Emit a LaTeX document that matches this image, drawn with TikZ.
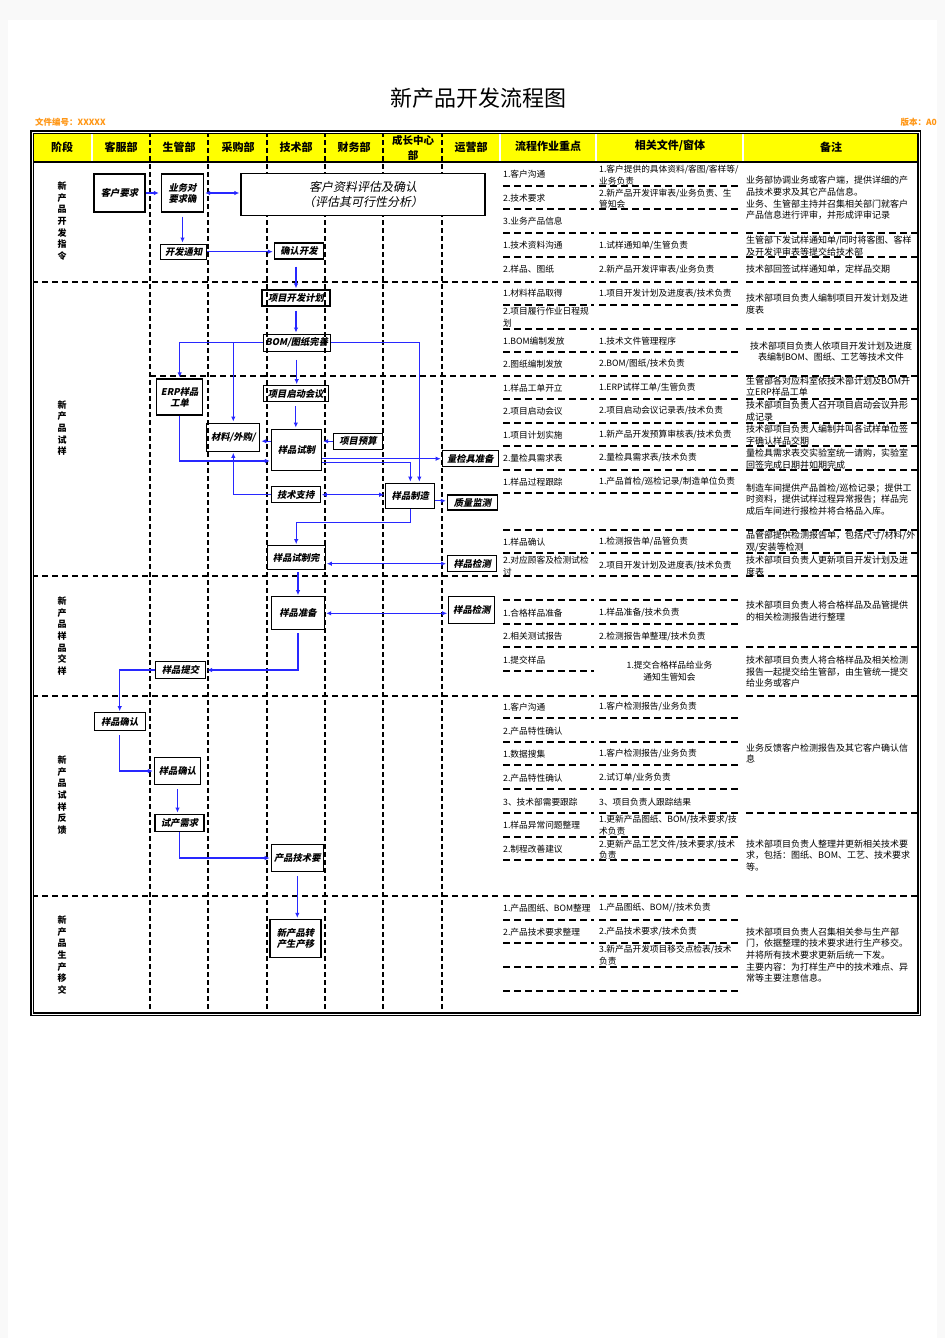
\documentclass[tikz,border=0pt]{standalone}
\usepackage{fontspec}
\setmainfont{Noto Sans CJK SC}
\newfontfamily\cjkit{Noto Sans CJK SC}[FakeSlant=0.2]
\usetikzlibrary{arrows.meta,calc}
\definecolor{hdr}{RGB}{255,255,0}
\definecolor{org}{RGB}{255,150,20}
\definecolor{arrblue}{RGB}{40,40,255}
\newcommand{\bxfont}{\cjkit\bfseries\fontsize{9.3}{11}\selectfont}
\newcommand{\bigbxfont}{\cjkit\fontsize{12}{15.5}\selectfont}
\newcommand{\cellfont}{\fontsize{8.7}{11.5}\selectfont}
\newcommand{\notefont}{\fontsize{9}{11.6}\selectfont}
\tikzset{
  box/.style={draw=black, line width=1.3pt, inner sep=1pt, font=\bxfont, align=center},
  arr/.style={draw=arrblue, line width=1.1pt, shorten >=1pt, -{Latex[length=5pt,width=4.5pt]}},
  darr/.style={draw=arrblue, line width=1.1pt, shorten >=1pt, shorten <=1pt, {Latex[length=5pt,width=4.5pt]}-{Latex[length=5pt,width=4.5pt]}},
  vdash/.style={draw=black, line width=1.5pt, dash pattern=on 5pt off 3pt},
  hdash/.style={draw=black, line width=1.9pt, dash pattern=on 6pt off 4pt},
  rdash/.style={draw=black, line width=1.9pt, dash pattern=on 7pt off 4pt},
  dbl/.style={draw=black!80, line width=0.7pt, double=white, double distance=1.2pt},
  ct/.style={anchor=west, font=\cellfont, align=left, inner sep=0pt},
  nt/.style={anchor=west, font=\notefont, align=left, inner sep=0pt},
  hd/.style={font=\bfseries\fontsize{11}{13}\selectfont, align=center, inner sep=0pt},
  ph/.style={font=\bfseries\fontsize{9}{11.7}\selectfont, align=center, inner sep=0pt}
}
\begin{document}
\begin{tikzpicture}[x=1pt,y=-1pt]
\useasboundingbox (0,0) rectangle (945,1338);
\fill[gray!5] (0,0) rectangle (945,1338);
\fill[white] (8,20) rectangle (937,1338);

% title
\node (title) at (478,98) {\fontsize{22}{24}\selectfont 新产品开发流程图};
\node[anchor=west, text=org, font=\bfseries\fontsize{8.5}{10}\selectfont, inner sep=0pt] (docno) at (35,122) {文件编号：XXXXX};
\node[anchor=east, text=org, font=\bfseries\fontsize{8.5}{10}\selectfont, inner sep=0pt] (ver) at (937,122) {版本：A0};

% header
\fill[hdr] (32,132) rectangle (919,162);
\node[hd] (h1) at (62,147) {阶段};
\node[hd] (h2) at (121,147) {客服部};
\node[hd] (h3) at (179,147) {生管部};
\node[hd] (h4) at (238,147) {采购部};
\node[hd] (h5) at (296,147) {技术部};
\node[hd] (h6) at (354,147) {财务部};
\node[hd, font=\bfseries\fontsize{10.5}{14.5}\selectfont] (h7) at (413,148) {成长中心\\部};
\node[hd] (h8) at (471,147) {运营部};
\node[hd] (h9) at (548,146) {流程作业重点};
\node[hd] (h10) at (670,146) {相关文件/窗体};
\node[hd] (h11) at (831,147) {备注};

% phase labels
\node[ph] (p1) at (62,221) {新\\产\\品\\开\\发\\指\\令};
\node[ph] (p2) at (62,428) {新\\产\\品\\试\\样};
\node[ph] (p3) at (62,636) {新\\产\\品\\样\\品\\交\\样};
\node[ph] (p4) at (62,795) {新\\产\\品\\试\\样\\反\\馈};
\node[ph] (p5) at (62,955) {新\\产\\品\\生\\产\\移\\交};

% grid: dashed lanes
\foreach \x in {150,208,267,325,383,442} \draw[vdash] (\x,132) -- (\x,1014);
\foreach \y in {282,576,696,896} \draw[hdash] (32,\y) -- (500,\y);
\draw[hdash] (150,376) -- (500,376);

% right column dashed rows
\foreach \y in {186,209,233,257,282,305,329,352,376,399,423,446,470,493,530,553,576,600,624,647,671,696,718,742,765,789,813,837,860,896,920,943,967,991}
  \draw[rdash] (503,\y) -- (594,\y);
\foreach \y in {186,209,233,257,282,305,329,352,376,399,423,446,470,493,530,553,576,600,624,647,696,718,742,765,789,813,837,860,896,920,943,967,991}
  \draw[rdash] (599,\y) -- (741,\y);
\foreach \y in {233,257,282,329,376,399,423,446,470,530,553,576,647,696,813,896}
  \draw[rdash] (746,\y) -- (917,\y);

% solid lines
\foreach \x in {92,500,596,743} \draw[dbl] (\x,132) -- (\x,1014);
\draw[line width=1.6pt] (32,162) -- (919,162);
\draw[line width=1.2pt, double=white, double distance=0.9pt] (32,132) rectangle (919,1014);

% flow boxes
\node[box, minimum width=51, minimum height=38] (kh) at (119.5,193) {客户要求};
\node[box, minimum width=42, minimum height=38] (yw) at (182.5,193) {业务对\\要求确};
\node[box, fill=white, minimum width=244, minimum height=42, font=\bigbxfont] (pg) at (363,194.5) {客户资料评估及确认\\（评估其可行性分析）};
\node[box, minimum width=46, minimum height=15] (kftz) at (183.7,251.7) {开发通知};
\node[box, minimum width=49, minimum height=16] (qrkf) at (299,251) {确认开发};
\node[box, minimum width=68, minimum height=16] (xmjh) at (296,298) {项目开发计划};
\node[box, minimum width=67, minimum height=17] (bom) at (296.7,342.7) {BOM/图纸完善};
\node[box, minimum width=46, minimum height=36] (erp) at (179.7,397) {ERP样品\\工单};
\node[box, minimum width=65, minimum height=16] (qdh) at (295.8,393.8) {项目启动会议};
\node[box, minimum width=53, minimum height=28] (cl) at (233.3,437.2) {材料/外购/};
\node[box, minimum width=50, minimum height=41] (sz) at (296.5,449.7) {样品试制};
\node[box, minimum width=49, minimum height=16] (ys) at (358,441.2) {项目预算};
\node[box, minimum width=56, minimum height=16] (ljj) at (470.3,458.7) {量检具准备};
\node[box, minimum width=49, minimum height=16] (jszc) at (295.7,494.7) {技术支持};
\node[box, minimum width=49, minimum height=25] (zz) at (410.3,495.8) {样品制造};
\node[box, minimum width=50, minimum height=15] (zljc) at (472.5,502.5) {质量监测};
\node[box, minimum width=58, minimum height=24] (szw) at (296.2,557.8) {样品试制完};
\node[box, minimum width=49, minimum height=16] (jc1) at (472.2,563.7) {样品检测};
\node[box, minimum width=53, minimum height=33] (zb) at (298,613.3) {样品准备};
\node[box, minimum width=46, minimum height=27] (jc2) at (471.8,610) {样品检测};
\node[box, minimum width=50, minimum height=17] (tj) at (180.5,670) {样品提交};
\node[box, minimum width=51, minimum height=18] (qr1) at (119.7,721.8) {样品确认};
\node[box, minimum width=46, minimum height=27] (qr2) at (177.5,771) {样品确认};
\node[box, minimum width=49, minimum height=17] (scxq) at (179.5,822.7) {试产需求};
\node[box, minimum width=52, minimum height=27] (jsyq) at (297.3,858) {产品技术要};
\node[box, minimum width=51, minimum height=38] (zc) at (295.5,938.5) {新产品转\\产生产移};

% column 1 texts
\node[ct] (a1) at (503,174) {1.客户沟通};
\node[ct] (a2) at (503,198) {2.技术要求};
\node[ct] (a3) at (503,221) {3.业务产品信息};
\node[ct] (a4) at (503,245) {1.技术资料沟通};
\node[ct] (a5) at (503,269) {2.样品、图纸};
\node[ct] (a6) at (503,293) {1.材料样品取得};
\node[ct] (a7) at (503,317) {2.项目履行作业日程规\\划};
\node[ct] (a8) at (503,341) {1.BOM编制发放};
\node[ct] (a9) at (503,364) {2.图纸编制发放};
\node[ct] (a10) at (503,388) {1.样品工单开立};
\node[ct] (a11) at (503,411) {2.项目启动会议};
\node[ct] (a12) at (503,435) {1.项目计划实施};
\node[ct] (a13) at (503,458) {2.量检具需求表};
\node[ct] (a14) at (503,482) {1.样品过程跟踪};
\node[ct] (a15) at (503,542) {1.样品确认};
\node[ct] (a16) at (503,566) {2.对应顾客及检测试检\\讨};
\node[ct] (a17) at (503,613) {1.合格样品准备};
\node[ct] (a18) at (503,636.5) {2.相关测试报告};
\node[ct] (a19) at (503,660) {1.提交样品};
\node[ct] (a20) at (503,707) {1.客户沟通};
\node[ct] (a21) at (503,731) {2.产品特性确认};
\node[ct] (a22) at (503,754) {1.数据搜集};
\node[ct] (a23) at (503,778) {2.产品特性确认};
\node[ct] (a24) at (503,802) {3、技术部需要跟踪};
\node[ct] (a25) at (503,825) {1.样品异常问题整理};
\node[ct] (a26) at (503,849) {2.制程改善建议};
\node[ct] (a27) at (503,908) {1.产品图纸、BOM整理};
\node[ct] (a28) at (503,932) {2.产品技术要求整理};

% column 2 texts
\node[ct] (b1) at (599,175.3) {1.客户提供的具体资料/客图/客样等/\\业务负责};
\node[ct] (b2) at (599,198.7) {2.新产品开发评审表/业务负责、生\\管知会};
\node[ct] (b3) at (599,246) {1.试样通知单/生管负责};
\node[ct] (b4) at (599,269.5) {2.新产品开发评审表/业务负责};
\node[ct] (b5) at (599,293.5) {1.项目开发计划及进度表/技术负责};
\node[ct] (b6) at (599,341) {1.技术文件管理程序};
\node[ct] (b7) at (599,364) {2.BOM/图纸/技术负责};
\node[ct] (b8) at (599,388) {1.ERP试样工单/生管负责};
\node[ct] (b9) at (599,411) {2.项目启动会议记录表/技术负责};
\node[ct] (b10) at (599,435) {1.新产品开发预算审核表/技术负责};
\node[ct] (b11) at (599,458) {2.量检具需求表/技术负责};
\node[ct] (b12) at (599,482) {1.产品首检/巡检记录/制造单位负责};
\node[ct] (b13) at (599,542) {1.检测报告单/品管负责};
\node[ct] (b14) at (599,566) {2.项目开发计划及进度表/技术负责};
\node[ct] (b15) at (599,613) {1.样品准备/技术负责};
\node[ct] (b16) at (599,636.5) {2.检测报告单整理/技术负责};
\node[ct, anchor=center, align=center] (b17) at (669.5,671) {1.提交合格样品给业务\\通知生管知会};
\node[ct] (b18) at (599,707) {1.客户检测报告/业务负责};
\node[ct] (b19) at (599,754) {1.客户检测报告/业务负责};
\node[ct] (b20) at (599,778) {2.试订单/业务负责};
\node[ct] (b21) at (599,802) {3、项目负责人跟踪结果};
\node[ct] (b22) at (599,825) {1.更新产品图纸、BOM/技术要求/技\\术负责};
\node[ct] (b23) at (599,849.5) {2.更新产品工艺文件/技术要求/技术\\负责};
\node[ct] (b24) at (599,908) {1.产品图纸、BOM//技术负责};
\node[ct] (b25) at (599,932) {2.产品技术要求/技术负责};
\node[ct] (b26) at (599,955) {3.新产品开发项目移交点检表/技术\\负责};

% column 3 texts
\node[nt] (c1) at (746,198) {业务部协调业务或客户端，提供详细的产\\品技术要求及其它产品信息。\\业务、生管部主持并召集相关部门就客户\\产品信息进行评审，并形成评审记录};
\node[nt] (c2) at (746,246) {生管部下发试样通知单/同时将客图、客样\\及开发评审表等提交给技术部};
\node[nt] (c3) at (746,269.5) {技术部回签试样通知单，定样品交期};
\node[nt] (c4) at (746,304) {技术部项目负责人编制项目开发计划及进\\度表};
\node[nt, anchor=center, align=center] (c5) at (831,351.5) {技术部项目负责人依项目开发计划及进度\\表编制BOM、图纸、工艺等技术文件};
\node[nt] (c6) at (746,386.5) {生管部各对应科室依技术部计划及BOM开\\立ERP样品工单};
\node[nt] (c7) at (746,411) {技术部项目负责人召开项目启动会议并形\\成记录};
\node[nt] (c8) at (746,435) {技术部项目负责人编制并叫各试样单位签\\字确认样品交期};
\node[nt] (c9) at (746,459) {量检具需求表交实验室统一请购，实验室\\回签完成日期并如期完成};
\node[nt] (c10) at (746,499.5) {制造车间提供产品首检/巡检记录；提供工\\时资料，提供试样过程异常报告；样品完\\成后车间进行报检并将合格品入库。};
\node[nt] (c11) at (746,541.5) {品管部提供检测报告单，包括尺寸/材料/外\\观/安装等检测};
\node[nt] (c12) at (746,566) {技术部项目负责人更新项目开发计划及进\\度表};
\node[nt] (c13) at (746,611) {技术部项目负责人将合格样品及品管提供\\的相关检测报告进行整理};
\node[nt] (c14) at (746,671.7) {技术部项目负责人将合格样品及相关检测\\报告一起提交给生管部，由生管统一提交\\给业务或客户};
\node[nt] (c15) at (746,753.5) {业务反馈客户检测报告及其它客户确认信\\息};
\node[nt] (c16) at (746,855.5) {技术部项目负责人整理并更新相关技术要\\求，包括：图纸、BOM、工艺、技术要求\\等。};
\node[nt] (c17) at (746,955) {技术部项目负责人召集相关参与生产部\\门，依据整理的技术要求进行生产移交。\\并将所有技术要求更新后统一下发。\\主要内容：为打样生产中的技术难点、异\\常等主要注意信息。};

% connectors
\draw[arr, shorten >=2pt] (kh) -- (yw);
\draw[darr] (yw.east) -- (yw.east -| pg.west);
\draw[arr, shorten <=4pt] (yw.south) -- (yw.south |- kftz.north);
\draw[arr] (kftz.east) -- (kftz.east -| qrkf.west);
\draw[arr, shorten <=7pt] (xmjh.north |- qrkf.south) -- (xmjh.north);
\draw[arr, shorten <=4pt] (xmjh.south) -- (xmjh.south |- bom.north);
\draw[arr, shorten <=8pt] (bom.south) -- (bom.south |- qdh.north);
\draw[arr] (bom.west) -| (erp.north);
\draw[arr] (bom.west -| cl.north) -- (cl.north);
\draw[arr] (bom.east) -| ([xshift=9pt]zz.north);
\draw[arr, shorten <=4pt] (qdh.south) -- (qdh.south |- sz.north);
\draw[arr] (sz.west |- ys.west) -- (cl.east |- ys.west);
\draw[arr] (ys.west) -- (ys.west -| sz.east);
\draw[arr] (erp.south) |- ([yshift=-11.3pt]sz.west);
\draw[arr] (sz.east |- ljj.west) -- (ljj.west);
\draw[arr] ([yshift=-13pt]sz.east) -| (zz.north);
\draw[arr] (jszc.west) -| (cl.south);
\draw[darr] (jszc.east) -- (jszc.east -| zz.west);
\draw[arr] ([yshift=-5pt]zz.east) -- ([yshift=-5pt]zz.east -| zljc.west);
\draw[arr] (zz.south) |- ($(szw.north)+(0,-22.4)$) -- (szw.north);
\draw[darr] (jc1.west -| szw.east) -- (jc1.west);
\draw[arr, shorten <=2pt] (zb.north |- szw.south) -- (zb.north);
\draw[darr] (zb.east) -- (zb.east -| jc2.west);
\draw[arr, shorten <=3pt] (zb.south) |- (tj.east);
\draw[arr] (tj.west) -| (qr1.north);
\draw[arr, shorten <=4pt] (qr1.south) |- (qr2.west);
\draw[arr, shorten <=4pt] (qr2.south) -- (qr2.south |- scxq.north);
\draw[arr] (scxq.south) |- (jsyq.west);
\draw[arr, shorten <=4pt] (jsyq.south) -- (jsyq.south |- zc.north);
\end{tikzpicture}
\end{document}
